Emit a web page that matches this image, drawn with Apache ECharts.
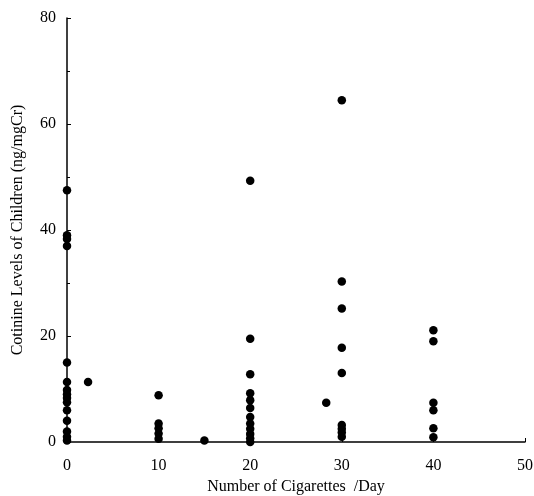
<!DOCTYPE html>
<html>
<head>
<meta charset="utf-8">
<script src="https://cdn.jsdelivr.net/npm/echarts@6/dist/echarts.min.js"></script>
<style>
  html, body { margin: 0; padding: 0; background: #fff; }
  #chart { width: 534px; height: 496px; }
</style>
</head>
<body>
<div id="chart"></div>
<script>
// cigarettes smoked per day (x) and child cotinine level (y), point by point
var cigarettes = [
  0, 0, 0, 0, 0, 0, 0, 0, 0, 0, 0, 0, 0, 0, 0,
  2.3,
  10, 10, 10, 10, 10,
  15,
  20, 20, 20, 20, 20, 20, 20, 20, 20, 20, 20, 20,
  28.3,
  30, 30, 30, 30, 30, 30, 30, 30, 30,
  40, 40, 40, 40, 40, 40
]
var cotinine = [
  47.5, 39, 38.3, 37, 15, 11.3, 9.8, 9, 8.3, 7.5, 6, 4, 2, 1, 0.3,
  11.3,
  8.8, 3.5, 2.6, 1.6, 0.6,
  0.3,
  49.3, 19.5, 12.8, 9.2, 7.9, 6.4, 4.7, 3.5, 2.5, 1.5, 0.7, 0,
  7.4,
  64.5, 30.3, 25.2, 17.8, 13, 3.2, 2.5, 1.8, 1,
  21.1, 19, 7.4, 6, 2.6, 0.9
]
var xTicks = [0, 10, 20, 30, 40, 50]
var yTicks = [0, 20, 40, 60, 80]

var points = []
cigarettes.forEach(function (c, i) {
  points.push([c, cotinine[i]])
})

var font = 'Liberation Serif'
var chart = echarts.init(document.getElementById('chart'))
var option = {
  animation: false,
  grid: { left: 67, right: 9, top: 18, bottom: 54, containLabel: false, outerBoundsMode: 'none' },
  xAxis: {
    type: 'value',
    min: xTicks[0],
    max: xTicks[xTicks.length - 1],
    interval: 10,
    name: 'Number of Cigarettes  /Day',
    nameLocation: 'middle',
    nameGap: 37,
    nameTextStyle: { fontFamily: font, fontSize: 16, color: '#000' },
    axisLine: { show: true, lineStyle: { color: '#000', width: 1.5 } },
    axisTick: { show: true, inside: true, length: 4, lineStyle: { color: '#000' } },
    axisLabel: { fontFamily: font, fontSize: 16, color: '#000', margin: 16 },
    splitLine: { show: false }
  },
  yAxis: {
    type: 'value',
    min: yTicks[0],
    max: yTicks[yTicks.length - 1],
    interval: 20,
    name: 'Cotinine Levels of Children (ng/mgCr)',
    nameLocation: 'middle',
    nameGap: 41,
    nameTextStyle: { fontFamily: font, fontSize: 16, color: '#000' },
    axisLine: { show: true, lineStyle: { color: '#000', width: 1.5 } },
    axisTick: { show: true, inside: true, length: 4, lineStyle: { color: '#000' } },
    minorTick: { show: true, splitNumber: 2, length: 3, lineStyle: { color: '#000' } },
    axisLabel: { fontFamily: font, fontSize: 16, color: '#000', margin: 11 },
    splitLine: { show: false }
  },
  series: [{
    type: 'scatter',
    data: points,
    symbol: 'circle',
    symbolSize: 8.5,
    itemStyle: { color: '#000', opacity: 1 }
  }]
}
chart.setOption(option)
</script>
</body>
</html>
